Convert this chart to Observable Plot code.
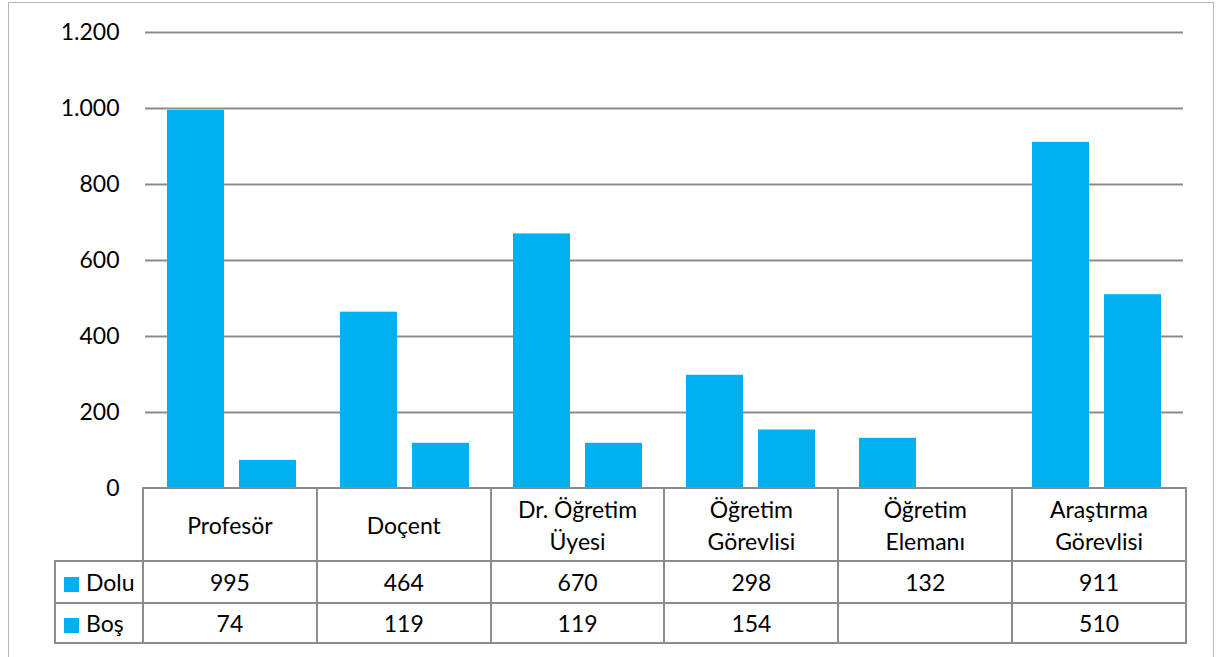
<!DOCTYPE html>
<html>
<head>
<meta charset="utf-8">
<script src="https://cdn.jsdelivr.net/npm/d3@7"></script>
<script src="https://cdn.jsdelivr.net/npm/@observablehq/plot@0.6"></script>
<style>
  body { margin: 0; background: #fff; font-family: Lato, "Open Sans", sans-serif; }
  #wrap { position: relative; width: 1216px; height: 657px; overflow: hidden; background: #fff; }
  #frame { position: absolute; left: 8px; top: 2px; width: 1206px; height: 720px; border: 1.5px solid #b8b8b8; box-sizing: border-box; }
  #chart { position: absolute; left: 0; top: 0; }
  #chart svg { overflow: visible; }
  #tbl { position: absolute; left: 54px; top: 487px; width: 1133px; border-collapse: collapse; table-layout: fixed; font-size: 23px; color: #000; font-family: Lato, sans-serif; }
  #tbl td { border: 2px solid #8c8c8c; text-align: center; padding: 0 16px; line-height: 32px; }
  #tbl tr:first-child td { letter-spacing: 0.5px; }
  #tbl td.leg { text-align: left; padding: 0 0 0 8px; white-space: nowrap; }
  #tbl td.blank { border-top: hidden; border-left: hidden; }
  .key { display: inline-block; width: 15px; height: 15px; background: #00B0F0; margin-right: 7px; vertical-align: -1px; }
</style>
</head>
<body>
<div id="wrap">
  <div id="frame"></div>
  <div id="chart"></div>
</div>
<script>
// ---- data ----
const categories = ["Profesör", "Doçent", "Dr. Öğretim Üyesi", "Öğretim Görevlisi", "Öğretim Elemanı", "Araştırma Görevlisi"];
const series = ["Dolu", "Boş"];
const dolu = [995, 464, 670, 298, 132, 911];
const bos = [74, 119, 119, 154, null, 510];
const yTicks = [0, 200, 400, 600, 800, 1000, 1200];

const values = { "Dolu": dolu, "Boş": bos };
const rows = categories.flatMap((c, i) => series.map(s => ({ category: c, series: s, value: values[s][i] })))
  .filter(d => d.value != null);

const trFormat = d3.formatLocale({ decimal: ",", thousands: ".", grouping: [3], currency: ["", ""] }).format(",");
const barColor = "#00B0F0";

const plot = Plot.plot({
  width: 1216,
  height: 500,
  marginLeft: 143,
  marginRight: 31,
  marginTop: 32,
  marginBottom: 12,
  style: { fontFamily: "Lato, sans-serif", fontSize: "23px", color: "#000", background: "transparent", overflow: "visible" },
  fx: { domain: categories, padding: 0, axis: null, label: null },
  x: { domain: series, paddingInner: 0.205, paddingOuter: 0.29, axis: null, label: null },
  y: { domain: [0, 1200], ticks: yTicks, tickFormat: trFormat, tickSize: 0, tickPadding: 26, label: null },
  marks: [
    Plot.ruleY(yTicks.filter(t => t > 0), { stroke: "#8c8c8c", strokeWidth: 2 }),
    Plot.barY(rows, { fx: "category", x: "series", y: "value", fill: barColor })
  ]
});
document.getElementById("chart").appendChild(plot);

// ---- data table below the plot ----
const tbl = document.createElement("table");
tbl.id = "tbl";
const cg = document.createElement("colgroup");
const c0 = document.createElement("col"); c0.style.width = "88px"; cg.appendChild(c0);
categories.forEach(() => cg.appendChild(document.createElement("col")));
tbl.appendChild(cg);

const head = document.createElement("tr");
head.style.height = "73px";
const blank = document.createElement("td"); blank.className = "blank"; head.appendChild(blank);
categories.forEach(c => { const td = document.createElement("td"); td.textContent = c; head.appendChild(td); });
tbl.appendChild(head);

series.forEach((s, si) => {
  const tr = document.createElement("tr");
  tr.style.height = si === 0 ? "42px" : "40px";
  const lg = document.createElement("td"); lg.className = "leg";
  const key = document.createElement("span"); key.className = "key"; key.style.background = barColor;
  lg.appendChild(key); lg.appendChild(document.createTextNode(s));
  tr.appendChild(lg);
  values[s].forEach(v => { const td = document.createElement("td"); td.textContent = v == null ? "" : v; tr.appendChild(td); });
  tbl.appendChild(tr);
});
document.getElementById("wrap").appendChild(tbl);
</script>
</body>
</html>
